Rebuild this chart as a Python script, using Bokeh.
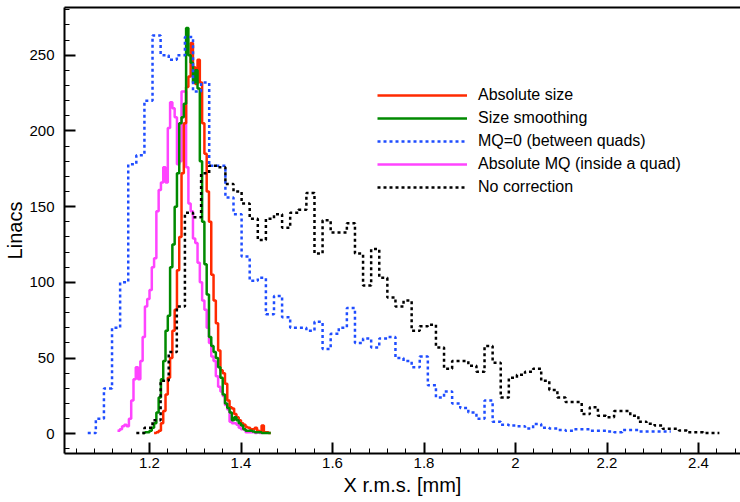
import numpy as np
from bokeh.plotting import figure
from bokeh.models import Range1d, Legend, LegendItem, FixedTicker, LinearAxis, NumeralTickFormatter
from bokeh.embed import file_html
from bokeh.resources import INLINE

# ---------------- data ----------------
# wide histograms (MQ=0, No correction): bin width 0.0177 starting at 1.065
wide_x0 = 1.065
wide_w = 0.0177
mq0_first_bin = 0
mq0 = [0.5, 10, 30, 70, 100, 178, 184, 220, 263, 250,
       247, 250, 262, 226, 232, 177, 177, 156, 145, 117,
       101, 103, 79, 91, 77, 70, 70, 68, 74, 56,
       66, 70, 83, 60, 63, 57, 63, 64, 50, 48,
       44, 51, 32, 24, 28, 20, 17, 14, 10, 22,
       8, 6, 5.5, 5, 3.5, 6.5, 4, 3.5, 2.5, 2,
       3, 3, 2, 2, 1.5, 1, 2.5, 2.5, 1.5, 1.5, 1.5, 1.5]
nocorr_first_bin = 6
nocorr = [0.5, 4, 9, 35, 54, 84, 146, 143, 172, 177,
          176, 165, 160, 152, 142, 128, 142, 145, 136, 146,
          148, 159, 119, 141, 133, 133, 139, 119, 98, 122,
          103, 90, 84, 88, 68, 71, 72, 57, 43, 48,
          48, 45, 41, 58, 47, 24, 37, 39, 41, 43,
          35, 29, 24, 21, 21, 13, 17.6, 12, 11, 15,
          15, 12, 8, 6.6, 5.5, 3.3, 3.3, 2.2, 1, 1, 0.5, 0.5]

# narrow histograms: bin width 0.005 starting at 1.13
narrow_x0 = 1.13
narrow_w = 0.005
absmq_first_bin = 0
absmq = [2, 3, 5, 6, 5, 10, 22, 36, 44, 36,
         48, 64, 84, 89, 95, 110, 116, 147, 161, 166,
         176, 166, 202, 219, 215, 209, 178, 180, 226, 226,
         176, 152, 147, 129, 126, 113, 100, 88, 82, 70,
         60, 51, 48, 38, 31, 28, 25, 19, 16, 8,
         7, 7, 6, 4, 3, 3, 1, 1, 1, 1, 0.5, 1, 0.5]
abssize_first_bin = 16
abssize = [0.5, 1, 2, 7, 15, 26, 37, 50, 68, 82,
           108, 130, 172, 205, 229, 236, 258, 242, 231, 247,
           232, 205, 185, 160, 140, 105, 88, 73, 55, 42,
           40, 33, 22, 17.6, 16.7, 13, 11, 9, 7, 6,
           4.5, 4, 3, 3, 4, 2, 1.5, 5.5, 1, 1, 0.5]
smooth_first_bin = 11
smooth = [0.5, 1, 1, 2, 4, 7, 14, 24, 36, 48,
          68, 78, 110, 125, 150, 172, 205, 209, 218, 268,
          250, 245, 232, 240, 228, 180, 140, 112, 92, 64,
          58, 54, 50, 44, 37, 26, 20, 17, 14, 9,
          11, 9, 7, 5.5, 3, 2, 2, 2, 1.5, 1,
          1, 1, 0.5, 0.5, 0.5, 0.5]

x_ticks = [1.2, 1.4, 1.6, 1.8, 2.0, 2.2, 2.4]
y_ticks = [0, 50, 100, 150, 200, 250]
legend_labels = ["Absolute size", "Size smoothing", "MQ=0 (between quads)",
                 "Absolute MQ (inside a quad)", "No correction"]


def step_xy(x0, w, first, vals):
    xs = [x0 + w * (first + i) for i in range(len(vals) + 1)]
    ys = list(vals) + [vals[-1]]
    return xs, ys


FONT = "Liberation Sans"

p = figure(width=740, height=502, output_backend="svg", toolbar_location=None,
           x_range=Range1d(1.0142, 2.4918), y_range=Range1d(-13.0, 281.5),
           min_border_left=64, min_border_right=0, min_border_top=7, min_border_bottom=49)
p.outline_line_color = None
p.xgrid.visible = False
p.ygrid.visible = False
p.background_fill_color = "white"

xax = p.below[0]
yax = p.left[0]

for ax in (xax, yax):
    ax.axis_line_width = 2
    ax.axis_line_color = "black"
    ax.major_tick_in = 11
    ax.major_tick_out = 0
    ax.minor_tick_in = 5
    ax.minor_tick_out = 0
    ax.major_tick_line_width = 2
    ax.minor_tick_line_width = 1
    ax.major_tick_line_color = "black"
    ax.minor_tick_line_color = "black"
    ax.major_label_text_font = FONT
    ax.major_label_text_font_size = "15px"
    ax.major_label_text_color = "black"
    ax.axis_label_text_font = FONT
    ax.axis_label_text_font_size = "20px"
    ax.axis_label_text_font_style = "normal"
    ax.axis_label_text_color = "black"

xax.ticker = FixedTicker(ticks=x_ticks, minor_ticks=list(np.round(np.arange(1.04, 2.49, 0.04), 3)))
xax.formatter = NumeralTickFormatter(format="0.[0]")
xax.major_label_standoff = 4
xax.axis_label_standoff = 3
xax.axis_label = "X r.m.s. [mm]"

yax.ticker = FixedTicker(ticks=y_ticks, minor_ticks=list(range(-10, 281, 10)))
yax.major_label_standoff = 10
yax.axis_label_standoff = 0
yax.axis_label = "Linacs"

# top border as a bare axis
top = LinearAxis(ticker=FixedTicker(ticks=[], minor_ticks=[]),
                 major_tick_line_color=None, minor_tick_line_color=None,
                 major_label_text_font_size="0px", major_label_standoff=0,
                 major_tick_in=0, major_tick_out=0, minor_tick_in=0, minor_tick_out=0,
                 axis_line_width=2, axis_line_color="black")
p.add_layout(top, "above")

RED = "#ff2a00"
GREEN = "#008a00"
BLUE = "#1f4dff"
MAG = "#ff44ff"

xs, ys = step_xy(narrow_x0, narrow_w, absmq_first_bin, absmq)
r_mag = p.step(xs, ys, mode="after", line_color=MAG, line_width=2.5)
xs, ys = step_xy(narrow_x0, narrow_w, abssize_first_bin, abssize)
r_red = p.step(xs, ys, mode="after", line_color=RED, line_width=2.5)
xs, ys = step_xy(narrow_x0, narrow_w, smooth_first_bin, smooth)
r_green = p.step(xs, ys, mode="after", line_color=GREEN, line_width=2.5)
xs, ys = step_xy(wide_x0, wide_w, mq0_first_bin, mq0)
r_blue = p.step(xs, ys, mode="after", line_color=BLUE, line_width=2.5, line_dash="3 3")
xs, ys = step_xy(wide_x0, wide_w, nocorr_first_bin, nocorr)
r_black = p.step(xs, ys, mode="after", line_color="black", line_width=2.5, line_dash="3 3")

legend = Legend(items=[LegendItem(label=legend_labels[0], renderers=[r_red]),
                       LegendItem(label=legend_labels[1], renderers=[r_green]),
                       LegendItem(label=legend_labels[2], renderers=[r_blue]),
                       LegendItem(label=legend_labels[3], renderers=[r_mag]),
                       LegendItem(label=legend_labels[4], renderers=[r_black])],
                location=(313, 255), border_line_color=None, background_fill_alpha=0,
                padding=0, margin=0, spacing=1, glyph_width=90, glyph_height=22,
                label_height=22, label_standoff=11, label_text_font=FONT,
                label_text_font_size="16px", label_text_color="black")
p.add_layout(legend)

open("out.html", "w").write(file_html(p, INLINE))
